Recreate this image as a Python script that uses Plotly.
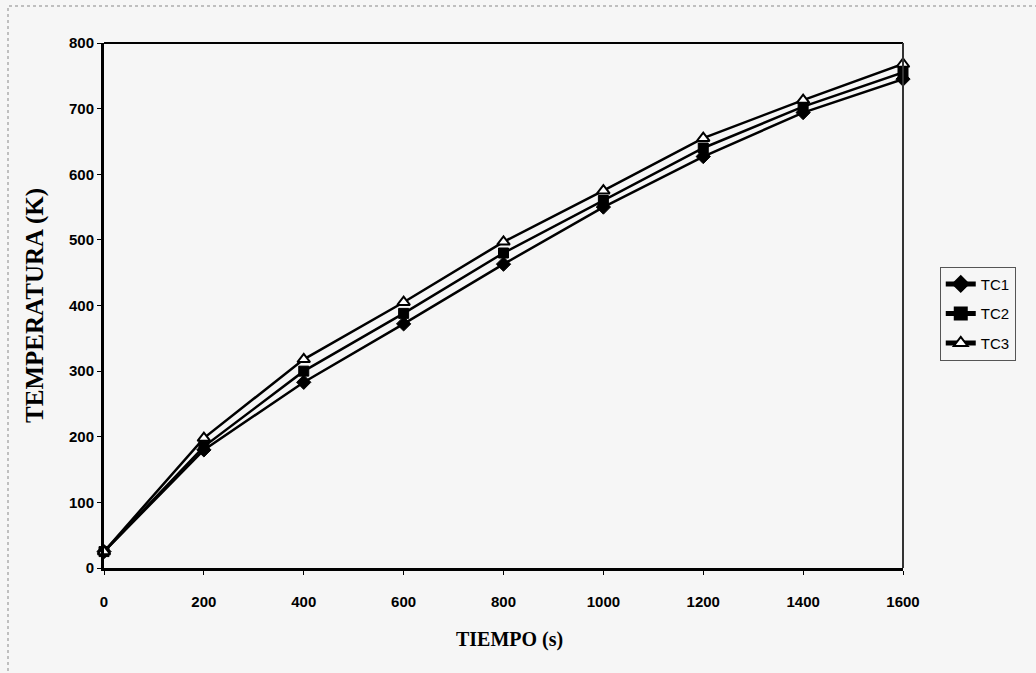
import plotly.graph_objects as go

tiempo = [0, 200, 400, 600, 800, 1000, 1200, 1400, 1600]
tc1 = [25, 180, 283, 372, 463, 550, 627, 694, 745]
tc2 = [25, 185, 300, 388, 480, 560, 640, 703, 755]
tc3 = [25, 198, 318, 405, 497, 575, 655, 713, 768]
x_ticks = [0, 200, 400, 600, 800, 1000, 1200, 1400, 1600]
y_ticks = [0, 100, 200, 300, 400, 500, 600, 700, 800]

fig = go.Figure()
series = [
    ("TC1", tc1, dict(symbol="diamond", size=11, color="black", line=dict(color="black", width=1))),
    ("TC2", tc2, dict(symbol="square", size=10, color="black", line=dict(color="black", width=1))),
    ("TC3", tc3, dict(symbol="triangle-up", size=11, color="white", line=dict(color="black", width=2))),
]
for name, ys, mk in series:
    fig.add_trace(go.Scatter(
        x=tiempo, y=ys, name=name, mode="lines+markers", legendgroup=name,
        line=dict(color="black", width=2.5), marker=mk, cliponaxis=False,
    ))

bg = "#f6f6f6"
tickfont = dict(size=15, family="Liberation Sans, Arial", weight="bold")
fig.update_layout(
    width=1036, height=673, autosize=False,
    margin=dict(l=104, r=133, t=43, b=105),
    paper_bgcolor=bg, plot_bgcolor=bg,
    font=dict(family="Liberation Sans, Arial", size=14, color="black"),
    showlegend=True,
    legend=dict(
        x=1.046, y=0.574, xanchor="left", yanchor="top",
        bgcolor=bg, bordercolor="#555555", borderwidth=1,
        font=dict(size=15, family="Liberation Sans, Arial"),
        itemsizing="constant", tracegroupgap=7,
    ),
    xaxis=dict(
        range=[0, 1600], tickvals=x_ticks, ticktext=[str(v) for v in x_ticks],
        showgrid=False, zeroline=False, showline=True, linecolor="black", linewidth=3,
        ticks="outside", ticklen=4, tickcolor="black", tickwidth=1,
        tickfont=tickfont, ticklabelstandoff=14,
    ),
    yaxis=dict(
        range=[0, 800], tickvals=y_ticks, ticktext=[str(v) for v in y_ticks],
        showgrid=False, zeroline=False, showline=True, linecolor="black", linewidth=3,
        ticks="outside", ticklen=4, tickcolor="black", tickwidth=1,
        tickfont=tickfont,
    ),
    annotations=[
        dict(text="<b>TIEMPO (s)</b>", x=0.508, y=-0.137, xref="paper", yref="paper",
             showarrow=False, xanchor="center", yanchor="middle",
             font=dict(family="Liberation Serif, Times New Roman", size=20)),
        dict(text="<b>TEMPERATURA (K)</b>", x=-0.0864, y=0.501, xref="paper", yref="paper",
             showarrow=False, xanchor="center", yanchor="middle", textangle=-90,
             font=dict(family="Liberation Serif, Times New Roman", size=25)),
    ],
    shapes=[
        dict(type="line", xref="paper", yref="paper", x0=0, x1=1, y0=1, y1=1,
             line=dict(color="black", width=2)),
        dict(type="line", xref="paper", yref="paper", x0=1, x1=1, y0=0, y1=1,
             line=dict(color="#333333", width=2)),
        dict(type="rect", xref="paper", yref="paper",
             x0=(8 - 104) / 799, x1=(1060 - 104) / 799,
             y0=(568 - 690) / 525, y1=(568 - 6) / 525,
             line=dict(color="#888888", width=1, dash="dot"), layer="below"),
    ],
)

fig.write_html("out.html")
